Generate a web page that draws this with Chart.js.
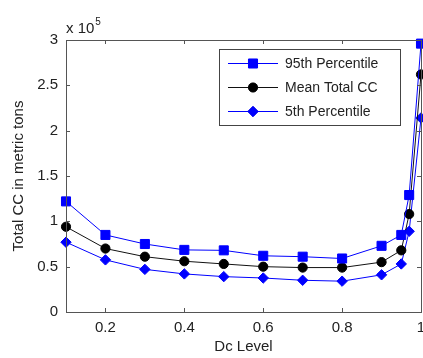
<!DOCTYPE html>
<html>
<head>
<meta charset="utf-8">
<script src="https://cdn.jsdelivr.net/npm/chart.js@4.4.1/dist/chart.umd.min.js"></script>
<style>
html,body{margin:0;padding:0;background:#fff;}
#wrap{width:423px;height:358px;position:relative;}
</style>
</head>
<body>
<div id="wrap"><canvas id="c" width="423" height="358"></canvas></div>
<script>
const dcLevels = [0.1, 0.2, 0.3, 0.4, 0.5, 0.6, 0.7, 0.8, 0.9, 0.95, 0.97, 1.0];
const p95 = [122000, 85000, 75000, 68500, 68000, 62000, 61000, 59000, 73000, 85000, 129000, 296000];
const meanCC = [94000, 70000, 61000, 56000, 53000, 50000, 49000, 49000, 55000, 68000, 108000, 262000];
const p5 = [77000, 57500, 47000, 42000, 39000, 37500, 35000, 34000, 41000, 53000, 89000, 214000];
const xTicks = [0.2, 0.4, 0.6, 0.8, 1];
const yTicks = [0, 50000, 100000, 150000, 200000, 250000, 300000];
const seriesNames = ['95th Percentile', 'Mean Total CC', '5th Percentile'];

const FONT = '"Liberation Sans", Arial, Helvetica, sans-serif';
const TXT = '#222';
const AX = '#555';

// markers may overflow the plot edge (as in the original), so no extra layout padding for them
Chart.controllers.line.prototype.getMaxOverflow = function(){ return 0; };

function pts(vals){ return dcLevels.map((x,i)=>({x:x, y:vals[i]})); }

const frame = {
  id: 'frame',
  afterDraw(chart){
    const ctx = chart.ctx, a = chart.chartArea;
    const xs = chart.scales.x, ys = chart.scales.y;
    ctx.save();
    ctx.strokeStyle = AX; ctx.lineWidth = 1;
    ctx.strokeRect(Math.round(a.left)+0.5, Math.round(a.top)+0.5, Math.round(a.right-a.left), Math.round(a.bottom-a.top));
    const tl = 4;
    ctx.beginPath();
    xTicks.forEach(v=>{
      const px = Math.round(xs.getPixelForValue(v))+0.5;
      ctx.moveTo(px, a.bottom); ctx.lineTo(px, a.bottom - tl);
      ctx.moveTo(px, a.top); ctx.lineTo(px, a.top + tl);
    });
    yTicks.forEach(v=>{
      const py = Math.round(ys.getPixelForValue(v))+0.5;
      ctx.moveTo(a.left, py); ctx.lineTo(a.left + tl, py);
      ctx.moveTo(a.right, py); ctx.lineTo(a.right - tl, py);
    });
    ctx.stroke();
    // exponent label
    ctx.fillStyle = TXT;
    ctx.textBaseline = 'alphabetic';
    ctx.textAlign = 'left';
    ctx.font = '15px ' + FONT;
    ctx.fillText('x 10', a.left, a.top - 7);
    const w = ctx.measureText('x 10').width;
    ctx.font = '10px ' + FONT;
    ctx.fillText('5', a.left + w + 1, a.top - 15);
    // legend
    const lx = 219, ly = 49, lw = 181, lh = 76;
    ctx.fillStyle = '#fff';
    ctx.fillRect(lx, ly, lw, lh);
    ctx.strokeStyle = '#444';
    ctx.strokeRect(lx+0.5, ly+0.5, lw, lh);
    chart.data.datasets.forEach((ds, i)=>{
      const cy = ly + 14 + i*24;
      ctx.strokeStyle = ds.borderColor; ctx.lineWidth = 1;
      ctx.beginPath(); ctx.moveTo(228, cy+0.5); ctx.lineTo(278, cy+0.5); ctx.stroke();
      Chart.helpers.drawPoint(ctx, {pointStyle: ds.pointStyle, radius: ds.pointRadius, borderWidth: 1}, 253, cy+0.5);
      ctx.fillStyle = ds.pointBackgroundColor;
      ctx.fill();
      ctx.fillStyle = TXT;
      ctx.font = '14px ' + FONT;
      ctx.textBaseline = 'middle';
      ctx.fillText(ds.label, 285, cy+1);
    });
    ctx.restore();
  }
};

new Chart(document.getElementById('c'), {
  type: 'line',
  data: {
    datasets: [
      {label: seriesNames[0], data: pts(p95), borderColor: '#0000ff', backgroundColor: '#0000ff', pointBackgroundColor: '#0000ff', pointBorderColor: '#0000ff', pointStyle: 'rect', pointRadius: 6.4, borderWidth: 1, clip: false},
      {label: seriesNames[1], data: pts(meanCC), borderColor: '#111', backgroundColor: '#000', pointBackgroundColor: '#000', pointBorderColor: '#000', pointStyle: 'circle', pointRadius: 4.6, borderWidth: 1, clip: false},
      {label: seriesNames[2], data: pts(p5), borderColor: '#0000ff', backgroundColor: '#0000ff', pointBackgroundColor: '#0000ff', pointBorderColor: '#0000ff', pointStyle: 'rectRot', pointRadius: 5.2, borderWidth: 1, clip: false}
    ]
  },
  options: {
    responsive: false,
    animation: false,
    events: [],
    layout: {padding: {left: 0, right: 2, top: 40, bottom: 0}},
    plugins: {legend: {display: false}, tooltip: {enabled: false}},
    scales: {
      x: {
        type: 'linear', min: 0.1, max: 1,
        afterBuildTicks: s => { s.ticks = xTicks.map(v=>({value:v})); },
        afterFit: s => { s.height = 46; s.paddingLeft = 0; s.paddingRight = 0; },
        grid: {display: false, drawTicks: false},
        border: {display: false},
        ticks: {color: TXT, font: {family: FONT, size: 15}, padding: 7, maxRotation: 0, autoSkip: false, callback: v => String(v)},
        title: {display: true, text: 'Dc Level', color: TXT, font: {family: FONT, size: 15}, padding: {top: 0, bottom: 2}}
      },
      y: {
        type: 'linear', min: 0, max: 300000,
        afterBuildTicks: s => { s.ticks = yTicks.map(v=>({value:v})); },
        afterFit: s => { s.width = 66; s.paddingTop = 0; s.paddingBottom = 0; },
        grid: {display: false, drawTicks: false},
        border: {display: false},
        ticks: {color: TXT, font: {family: FONT, size: 15}, padding: 8, autoSkip: false, callback: v => String(v/100000)},
        title: {display: true, text: 'Total CC in metric tons', color: TXT, font: {family: FONT, size: 15}, padding: {top: 10, bottom: 0}}
      }
    }
  },
  plugins: [frame]
});
</script>
</body>
</html>
